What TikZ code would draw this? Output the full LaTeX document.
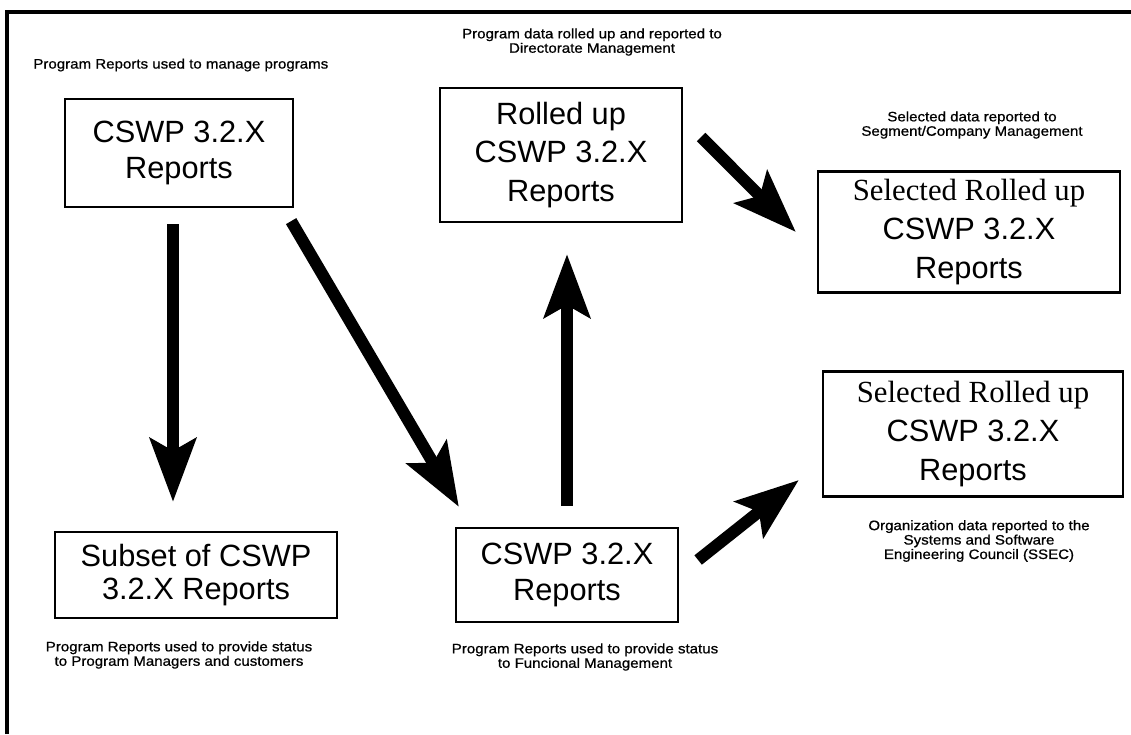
\documentclass[tikz,border=0pt]{standalone}
\usepackage{fontspec}
\setmainfont{Liberation Sans}
\newfontfamily\serifface{Liberation Serif}
\newfontfamily\notefont[FakeStretch=1.1,FakeBold=0.8]{Liberation Sans}
\usetikzlibrary{arrows.meta,calc}

\begin{document}
\begin{tikzpicture}[x=0.02cm,y=-0.02cm,
  box/.style={draw,line width=1.3pt,align=center,inner sep=0pt,font=\fontsize{17.5}{20}\selectfont},
  note/.style={align=center,inner sep=0pt,font=\notefont\fontsize{7.8}{8.2}\selectfont},
  bigarrow/.style={line width=6.8pt,-{Stealth[length=36pt,width=26pt,inset=7pt]}}]
\useasboundingbox (0,0) rectangle (1131,734);

% frame
\draw[line width=2pt] (7,734) -- (7,12) -- (1131,12);

% report boxes
\node[box,minimum width=4.56cm,minimum height=2.16cm] (prog) at (179,153) {CSWP 3.2.X\\Reports};
\node[box,minimum width=4.84cm,minimum height=2.68cm,font=\fontsize{17.5}{22}\selectfont] (roll) at (561,155) {Rolled up\\CSWP 3.2.X\\Reports};
\node[box,minimum width=6.04cm,minimum height=2.42cm,font=\fontsize{17.5}{22}\selectfont] (segm) at (969,232) {{\serifface Selected Rolled up}\\CSWP 3.2.X\\Reports};
\node[box,minimum width=6cm,minimum height=2.5cm,font=\fontsize{17.5}{22}\selectfont] (ssec) at (973,434) {{\serifface Selected Rolled up}\\CSWP 3.2.X\\Reports};
\node[box,minimum width=5.64cm,minimum height=1.72cm,font=\fontsize{17.5}{19}\selectfont] (subs) at (196,575) {Subset of CSWP\\3.2.X Reports};
\node[box,minimum width=4.44cm,minimum height=1.88cm] (func) at (567,575) {CSWP 3.2.X\\Reports};

% notes
\node[note,anchor=west] (nprog) at (33,65) {Program Reports used to manage programs};
\node[note] (nroll) at (592,42) {Program data rolled up and reported to\\Directorate Management};
\node[note] (nsegm) at (972,125) {Selected data reported to\\Segment/Company Management};
\node[note] (nsubs) at (179,655) {Program Reports used to provide status\\to Program Managers and customers};
\node[note] (nfunc) at (585,657) {Program Reports used to provide status\\to Funcional Management};
\node[note] (nssec) at (979,541) {Organization data reported to the\\Systems and Software\\Engineering Council (SSEC)};

% arrows
\draw[bigarrow] ($(prog.south)+(-6,16)$) -- ($(subs.north)+(-23,-29)$);
\draw[bigarrow] ($(prog.south east)+(-3,13)$) -- ($(func.north west)+(4,-20)$);
\draw[bigarrow] ($(func.north)+(0,-21)$) -- ($(roll.south)+(6,31)$);
\draw[bigarrow] ($(roll.east)+(18,-18)$) -- ($(segm.west)+(-21,0)$);
\draw[bigarrow] ($(func.east)+(19,-15)$) -- ($(ssec.west)+(-23,46)$);
\end{tikzpicture}
\end{document}
